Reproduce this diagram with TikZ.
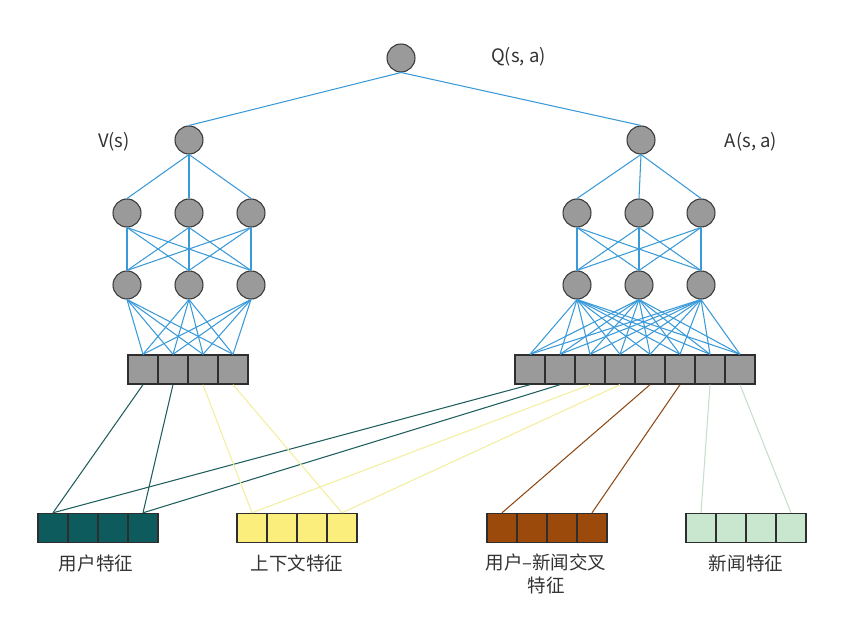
\documentclass[tikz,border=0pt]{standalone}
\usepackage{fontspec}
\setmainfont{Noto Sans CJK SC}
\usetikzlibrary{positioning, calc}

\begin{document}
\begin{tikzpicture}[
    x=0.03cm, y=-0.03cm,
    every node/.style={font=\fontsize{15.8}{19}\selectfont, text=labelcolor},
    neuron/.style={circle, draw=nodeedge, fill=nodefill, line width=0.9pt,
        minimum size=0.84cm, inner sep=0pt},
    cell/.style={rectangle, draw=celledge, line width=1.2pt,
        minimum width=0.9cm, minimum height=0.87cm, inner sep=0pt},
    wire/.style={netblue, line width=0.9pt},
    feed/.style={line width=0.9pt},
]

\definecolor{netblue}{HTML}{3A9AD9}   % the network edges
\definecolor{nodefill}{HTML}{9A9A9A}
\definecolor{nodeedge}{HTML}{3A3A3A}
\definecolor{celledge}{HTML}{2E2E2E}
\definecolor{labelcolor}{HTML}{333333}
\definecolor{c1}{HTML}{0D5B5C}   % user features
\definecolor{c1line}{HTML}{1E5E5C}
\definecolor{c2}{HTML}{FCEE7D}   % context features
\definecolor{c2line}{HTML}{F2EE9E}
\definecolor{c3}{HTML}{9C4A0C}   % user-news cross features
\definecolor{c3line}{HTML}{8E4A16}
\definecolor{c4}{HTML}{C9E6CE}   % news features
\definecolor{c4line}{HTML}{C8DECB}

\useasboundingbox (0,0) rectangle (843,629);

% ================================================================
%   two towers:  V(s) on the left, A(s, a) on the right, joined in Q(s, a)
%   the feature boxes at the bottom feed the input rows of both towers
% ================================================================

% ---------------------------------------------------------------- heads
\node[neuron] (q) at (401, 58) {};
\node[anchor=west] (qlabel) at (487, 57) {Q(s, a)};
\node[neuron] (v) at (189, 140) {};
\node (vlabel) at (114, 142) {V(s)};
\node[neuron] (a) at (641, 140) {};
\node (alabel) at (751, 142) {A(s, a)};

% ---------------------------------------------------------------- hidden layers
\foreach \i/\x in {1/127, 2/189, 3/251} {
    \node[neuron] (vh\i) at (\x, 213) {};
    \node[neuron] (vg\i) at (\x, 285) {};
    \node[neuron] (ah\i) at (\x+450, 213) {};
    \node[neuron] (ag\i) at (\x+450, 285) {};
}

% ---------------------------------------------------------------- input rows
\foreach \i in {1,...,4}
    \node[cell, fill=nodefill] (vc\i) at (128+30*\i-15, 369.5) {};
\foreach \i in {1,...,8}
    \node[cell, fill=nodefill] (ac\i) at (515+30*\i-15, 369.5) {};

% ---------------------------------------------------------------- feature boxes
\foreach \i in {1,...,4} {
    \node[cell, fill=c1] (user\i) at (38+30*\i-15, 528) {};
    \node[cell, fill=c2] (ctx\i)  at (237+30*\i-15, 528) {};
    \node[cell, fill=c3] (cross\i) at (487+30*\i-15, 528) {};
    \node[cell, fill=c4] (news\i) at (686+30*\i-15, 528) {};
}
\node (userlabel) at (96, 563) {用户特征};
\node (ctxlabel) at (297, 563) {上下文特征};
\node[align=center] (crosslabel) at (546, 574) {用户–新闻交叉\\特征};
\node (newslabel) at (746, 563) {新闻特征};

% ---------------------------------------------------------------- network edges
\draw[wire] (q.south) -- (v.north);
\draw[wire] (q.south) -- (a.north);
\foreach \i in {1,2,3} {
    \draw[wire] (v.south) -- (vh\i.north);
    \draw[wire] (a.south) -- (ah\i.north);
    \foreach \j in {1,2,3} {
        \draw[wire] (vh\i.south) -- (vg\j.north);
        \draw[wire] (ah\i.south) -- (ag\j.north);
    }
    \foreach \j in {1,...,4}
        \draw[wire] (vg\i.south) -- (vc\j.north);
    \foreach \j in {1,...,8}
        \draw[wire] (ag\i.south) -- (ac\j.north);
}

% ---------------------------------------------------------------- features into the towers
\foreach \from/\to/\col in {vc1/user1/c1line, vc2/user4/c1line,
                            ac1/user1/c1line, ac2/user4/c1line,
                            vc3/ctx1/c2line, vc4/ctx4/c2line,
                            ac3/ctx1/c2line, ac4/ctx4/c2line,
                            ac5/cross1/c3line, ac6/cross4/c3line,
                            ac7/news1/c4line, ac8/news4/c4line} {
    \draw[feed, \col] (\from.south) -- (\to.north);
}

\end{tikzpicture}
\end{document}
